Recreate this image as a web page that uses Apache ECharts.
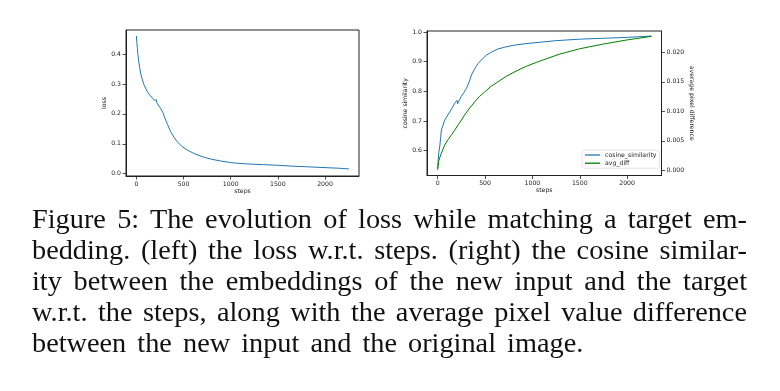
<!DOCTYPE html>
<html>
<head>
<meta charset="utf-8">
<script src="https://cdn.jsdelivr.net/npm/echarts@6/dist/echarts.min.js"></script>
<style>
html,body{margin:0;padding:0;background:#fff;}
#wrap{position:relative;width:780px;height:391px;overflow:hidden;}
#chart{position:absolute;left:0;top:0;width:780px;height:391px;}
#cap{position:absolute;left:32px;top:203px;width:715px;font-family:'Liberation Serif','Times New Roman',serif;font-size:28.3px;line-height:31px;color:#111;}
#cap .j{text-align:justify;text-align-last:justify;white-space:nowrap;word-spacing:1px;}
#cap .l{text-align:left;white-space:nowrap;word-spacing:4px;}
</style>
</head>
<body>
<div id="wrap">
<div id="chart"></div>
<div id="cap">
<div class="j">Figure 5: The evolution of loss while matching a target em-</div>
<div class="j">bedding. (left) the loss w.r.t. steps. (right) the cosine similar-</div>
<div class="j">ity between the embeddings of the new input and the target</div>
<div class="j">w.r.t. the steps, along with the average pixel value difference</div>
<div class="l">between the new input and the original image.</div>
</div>
</div>
<script>
// ---- data ----
var stepTicks = [0, 500, 1000, 1500, 2000];
var lossTicks = [0.0, 0.1, 0.2, 0.3, 0.4];
var cosTicks = [0.6, 0.7, 0.8, 0.9, 1.0];
var diffTicks = [0.000, 0.005, 0.010, 0.015, 0.020];

var lossSteps = [0, 5, 10, 17, 25, 35, 45, 60, 80, 98, 120, 145, 169, 190, 205, 212, 218, 230, 256, 280, 302, 330, 362, 400, 432, 480, 538, 620, 713, 800, 889, 1000, 1065, 1200, 1350, 1500, 1650, 1800, 2000, 2150, 2253];
var lossValues = [0.461, 0.44, 0.42, 0.398, 0.375, 0.355, 0.336, 0.318, 0.298, 0.286, 0.273, 0.262, 0.253, 0.246, 0.240, 0.247, 0.236, 0.232, 0.219, 0.205, 0.186, 0.165, 0.141, 0.121, 0.107, 0.092, 0.079, 0.066, 0.055, 0.048, 0.0425, 0.037, 0.035, 0.032, 0.030, 0.028, 0.025, 0.023, 0.020, 0.018, 0.0157];

var cosSteps = [0, 5, 12, 21, 30, 39, 50, 74, 100, 127, 150, 180, 195, 204, 210, 215, 225, 250, 275, 303, 330, 356, 390, 426, 470, 514, 570, 637, 720, 814, 930, 1060, 1250, 1500, 1750, 2000, 2258];
var cosValues = [0.535, 0.57, 0.595, 0.613, 0.64, 0.670, 0.675, 0.703, 0.717, 0.731, 0.743, 0.760, 0.762, 0.770, 0.758, 0.754, 0.768, 0.784, 0.795, 0.810, 0.83, 0.855, 0.876, 0.894, 0.909, 0.922, 0.933, 0.943, 0.950, 0.956, 0.961, 0.965, 0.971, 0.976, 0.979, 0.982, 0.9865];

var diffSteps = [0, 10, 20, 39, 74, 110, 145, 180, 215, 250, 285, 340, 391, 440, 497, 560, 637, 720, 814, 930, 1060, 1289, 1500, 1750, 2000, 2258];
var diffValues = [0.0003, 0.0015, 0.0021, 0.0029, 0.0043, 0.0052, 0.0060, 0.0068, 0.0077, 0.0085, 0.0094, 0.0106, 0.0116, 0.0125, 0.0133, 0.0142, 0.0150, 0.0159, 0.0167, 0.0176, 0.0184, 0.0197, 0.0206, 0.0214, 0.0221, 0.0227];

function pairs(xs, ys){ return xs.map(function(x,i){ return [x, ys[i]]; }); }

var FONT = 'DejaVu Sans';
var FS = 6.2;
var TXT = '#222';
var AX = '#222';

function axis(ticks, fmt, extra){
  var o = {
    type:'value',
    axisLine:{show:true, onZero:false, lineStyle:{color:AX, width:1}},
    axisTick:{show:true, length:3.5, inside:false, customValues:ticks, lineStyle:{color:AX, width:0.8}},
    axisLabel:{show:true, customValues:ticks, fontFamily:FONT, fontSize:FS, color:TXT, formatter:fmt, margin:5},
    splitLine:{show:false},
    nameLocation:'middle',
    nameTextStyle:{fontFamily:FONT, fontSize:FS, color:TXT}
  };
  for (var k in extra) o[k] = extra[k];
  return o;
}
function intFmt(v){ return String(Math.round(v)); }

var chart = echarts.init(document.getElementById('chart'), null, {renderer:'canvas'});
chart.setOption({
  animation:false,
  backgroundColor:'#fff',
  grid:[
    {left:126, top:30, width:233, height:146, show:true, borderColor:AX, borderWidth:1, backgroundColor:'transparent'},
    {left:427, top:31, width:234.5, height:144.5, show:true, borderColor:AX, borderWidth:1, backgroundColor:'transparent'}
  ],
  legend:{
    data:['cosine_similarity','avg_diff'],
    orient:'vertical', left:582, top:150,
    icon:'rect', itemWidth:15, itemHeight:1.3, itemGap:2.2,
    padding:[2,3,2,3],
    borderColor:'#ddd', borderWidth:0.8, borderRadius:2,
    backgroundColor:'rgba(255,255,255,0.8)',
    textStyle:{fontFamily:FONT, fontSize:FS, color:TXT}
  },
  xAxis:[
    axis(stepTicks, intFmt, {gridIndex:0, min:-110, max:2360, name:'steps', nameGap:12}),
    axis(stepTicks, intFmt, {gridIndex:1, min:-113, max:2363, name:'steps', nameGap:12})
  ],
  yAxis:[
    axis(lossTicks, function(v){return v.toFixed(1);}, {gridIndex:0, min:-0.008, max:0.481, name:'loss', nameGap:19, nameRotate:90}),
    axis(cosTicks, function(v){return v.toFixed(1);}, {gridIndex:1, min:0.5165, max:1.0035, name:'cosine similarity', nameGap:10, nameRotate:90}),
    axis(diffTicks, function(v){return v.toFixed(3);}, {gridIndex:1, position:'right', min:-0.00088, max:0.02361, name:'average pixel difference', nameGap:27, nameRotate:-90})
  ],
  series:[
    {name:'loss', type:'line', xAxisIndex:0, yAxisIndex:0, data:pairs(lossSteps, lossValues), showSymbol:false, symbol:'none', lineStyle:{color:'#1f77b4', width:1}, itemStyle:{color:'#1f77b4'}},
    {name:'cosine_similarity', type:'line', xAxisIndex:1, yAxisIndex:1, data:pairs(cosSteps, cosValues), showSymbol:false, symbol:'none', lineStyle:{color:'#1f77b4', width:1}, itemStyle:{color:'#1f77b4'}},
    {name:'avg_diff', type:'line', xAxisIndex:1, yAxisIndex:2, data:pairs(diffSteps, diffValues), showSymbol:false, symbol:'none', lineStyle:{color:'#008000', width:1}, itemStyle:{color:'#008000'}}
  ]
});
</script>
</body>
</html>
